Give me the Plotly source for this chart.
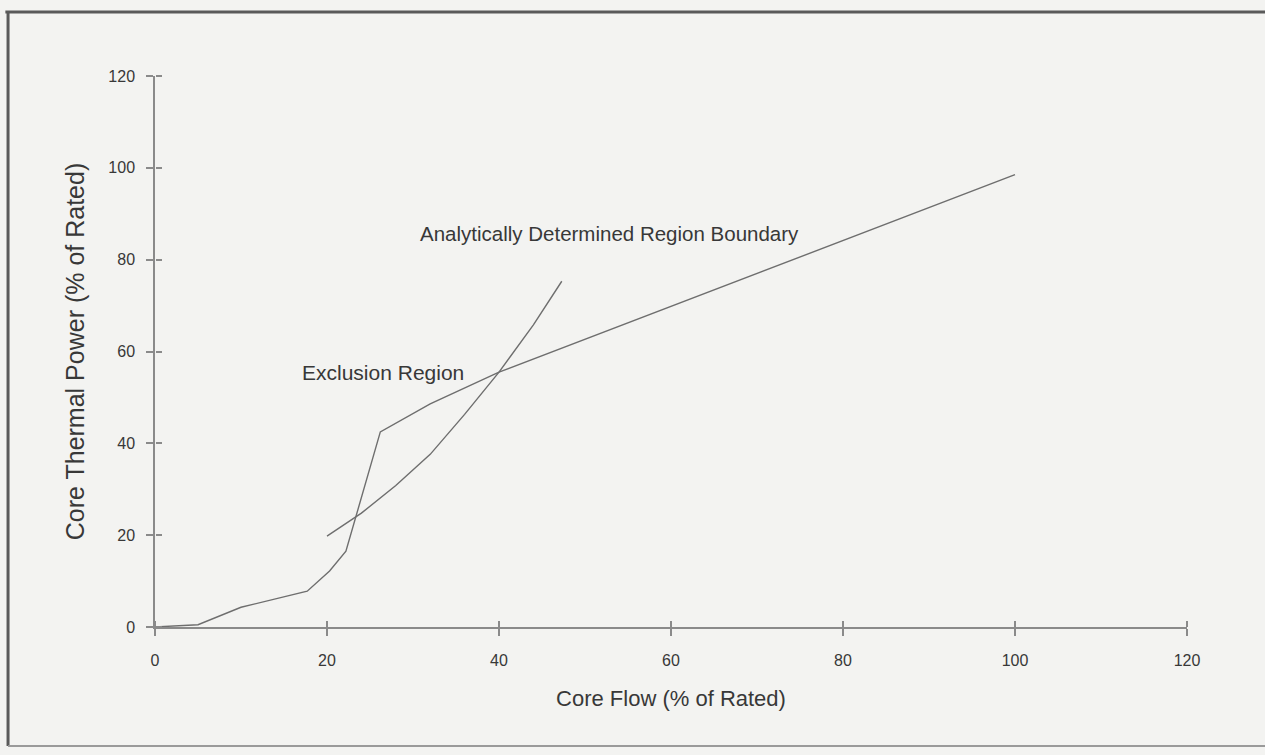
import plotly.graph_objects as go

# Exclusion region boundary (core flow %, core thermal power %)
excl_flow = [0, 5, 10, 17.7, 20.3, 22.2, 26.2, 32, 40, 100]
excl_power = [0, 0.5, 4.3, 7.8, 12.2, 16.5, 42.5, 48.6, 55.5, 98.5]

# Analytically determined region boundary
anal_flow = [20, 24, 28, 32, 36, 40, 44, 47.3]
anal_power = [19.8, 24.8, 30.8, 37.6, 46.3, 55.5, 65.8, 75.3]

x_ticks = [0, 20, 40, 60, 80, 100, 120]
y_ticks = [0, 20, 40, 60, 80, 100, 120]

label_excl = "Exclusion Region"
label_anal = "Analytically Determined Region Boundary"

line_col = "#6e6e6e"
text_col = "#383838"
axis_col = "#8a8a8a"
bg_col = "#f3f3f1"
font_fam = "Liberation Sans, Arial, sans-serif"

fig = go.Figure()
fig.add_trace(go.Scatter(x=excl_flow, y=excl_power, mode="lines",
                         line=dict(color=line_col, width=1.4), showlegend=False,
                         hoverinfo="skip"))
fig.add_trace(go.Scatter(x=anal_flow, y=anal_power, mode="lines",
                         line=dict(color=line_col, width=1.4), showlegend=False,
                         hoverinfo="skip"))

axis_common = dict(range=[0, 120], showgrid=False, zeroline=False,
                   showline=True, linecolor=axis_col, linewidth=1.5,
                   ticks="outside", ticklen=7, tickwidth=1.5, tickcolor=axis_col,
                   tickfont=dict(family=font_fam, size=16, color=text_col))

# flipped-side overlay axes give the short inward half of each crossing tick
inner_common = dict(range=[0, 120], showgrid=False, zeroline=False,
                    showline=False, ticks="outside", ticklen=6, tickwidth=1.5,
                    tickcolor=axis_col, showticklabels=False, anchor="free",
                    position=0)

fig.update_layout(
    width=1265, height=755,
    margin=dict(l=155, r=78, t=76, b=128),
    paper_bgcolor=bg_col, plot_bgcolor=bg_col,
    font=dict(family=font_fam, color=text_col),
    xaxis=dict(**axis_common, tickvals=x_ticks, ticktext=[str(v) for v in x_ticks],
               ticklabelstandoff=11,
               title=dict(text="Core Flow (% of Rated)", standoff=23,
                          font=dict(family=font_fam, size=22, color=text_col))),
    yaxis=dict(**axis_common, tickvals=y_ticks, ticktext=[str(v) for v in y_ticks],
               ticklabelstandoff=8,
               title=dict(text="Core Thermal Power (% of Rated)", standoff=17,
                          font=dict(family=font_fam, size=25, color=text_col))),
    xaxis2=dict(**inner_common, overlaying="x", side="top", tickvals=x_ticks),
    yaxis2=dict(**inner_common, overlaying="y", side="right", tickvals=y_ticks),
)

# invisible trace to activate the inner-tick overlay axes
fig.add_trace(go.Scatter(x=[0], y=[0], xaxis="x2", yaxis="y2", mode="markers",
                         marker=dict(opacity=0), showlegend=False,
                         hoverinfo="skip"))

fig.add_annotation(x=30.6, y=85.8, text=label_anal, showarrow=False,
                   xanchor="left", yanchor="middle",
                   font=dict(family=font_fam, size=20.5, color=text_col))
fig.add_annotation(x=16.9, y=55.5, text=label_excl, showarrow=False,
                   xanchor="left", yanchor="middle",
                   font=dict(family=font_fam, size=21, color=text_col))

# scanned page frame
fig.add_shape(type="line", xref="paper", yref="paper", x0=-0.145, x1=1.1,
              y0=1.116, y1=1.116, line=dict(color="#5a5a5a", width=3))
fig.add_shape(type="line", xref="paper", yref="paper", x0=-0.1424, x1=-0.1424,
              y0=1.116, y1=-0.216, line=dict(color="#5a5a5a", width=3))
fig.add_shape(type="line", xref="paper", yref="paper", x0=-0.1424, x1=1.1,
              y0=-0.216, y1=-0.216, line=dict(color="#9a9a9a", width=2))

fig.write_html("out.html", config={"displayModeBar": False},
               post_script="document.body.style.margin='0';"
                           "document.body.style.background='" + bg_col + "';")
